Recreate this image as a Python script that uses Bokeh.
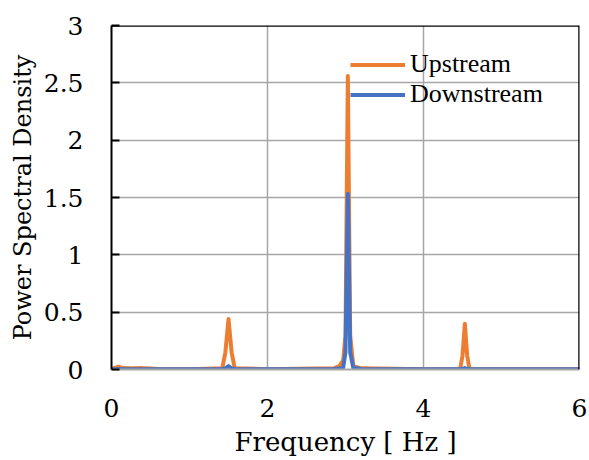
from bokeh.plotting import figure
from bokeh.models import (ColumnDataSource, Legend, LegendItem, Span,
                          FixedTicker, Range1d)
from bokeh.embed import file_html
from bokeh.resources import INLINE

# ---- data ----
freq = [0.0, 0.05, 0.09, 0.14, 0.25, 0.4, 0.5, 0.6, 1.0, 1.42, 1.46, 1.5, 1.54, 1.58,
        2.0, 2.85, 2.92, 2.97, 3.0, 3.03, 3.06, 3.1, 3.2, 4.0, 4.47, 4.5, 4.53, 4.56,
        4.59, 5.0, 6.0]
upstream = [0.005, 0.015, 0.025, 0.012, 0.01, 0.012, 0.008, 0.004, 0.003, 0.01, 0.15,
            0.44, 0.15, 0.01, 0.003, 0.01, 0.03, 0.08, 0.3, 2.56, 0.3, 0.03, 0.01,
            0.003, 0.005, 0.12, 0.40, 0.12, 0.005, 0.003, 0.003]
downstream = [0.002, 0.003, 0.004, 0.003, 0.002, 0.002, 0.002, 0.002, 0.002, 0.004,
              0.01, 0.03, 0.01, 0.004, 0.002, 0.004, 0.008, 0.015, 0.15, 1.53, 0.15,
              0.015, 0.005, 0.002, 0.002, 0.006, 0.012, 0.006, 0.002, 0.002, 0.002]
series_names = ["Upstream", "Downstream"]
x_ticks = [0, 2, 4, 6]
y_ticks = [0, 0.5, 1, 1.5, 2, 2.5, 3]
x_title = "Frequency [ Hz ]"
y_title = "Power Spectral Density"

FONT = "'Liberation Serif', 'Times New Roman', serif"
AXFONT = "DejaVu Serif"
ORANGE = "#ED7D31"
BLUE = "#4472C4"
GRID = "#a6a6a6"

src = ColumnDataSource(dict(f=freq, up=upstream, down=downstream))

p = figure(width=589, height=460, output_backend="svg", toolbar_location=None,
           x_range=Range1d(0, 6), y_range=Range1d(0, 3),
           min_border_left=111, min_border_right=10, min_border_top=25,
           min_border_bottom=91)
p.outline_line_color = None

r_up = p.line("f", "up", source=src, line_color=ORANGE, line_width=4, line_join="round")
r_down = p.line("f", "down", source=src, line_color=BLUE, line_width=4, line_join="round")

xa = p.xaxis[0]
ya = p.yaxis[0]
xa.ticker = FixedTicker(ticks=x_ticks)
ya.ticker = FixedTicker(ticks=y_ticks)
xa.axis_label = x_title
ya.axis_label = y_title
for ax in (xa, ya):
    ax.major_label_text_font = AXFONT
    ax.major_label_text_font_size = "25px"
    ax.major_label_text_color = "black"
    ax.axis_label_text_font = AXFONT
    ax.axis_label_text_font_style = "normal"
    ax.axis_label_text_color = "black"
    ax.minor_tick_line_color = None
xa.axis_label_text_font_size = "26px"
ya.axis_label_text_font_size = "24px"

xa.axis_line_color = GRID
xa.axis_line_width = 2
xa.major_tick_line_color = None
xa.major_label_standoff = 23
xa.axis_label_standoff = 7

ya.axis_line_color = "black"
ya.axis_line_width = 2
ya.major_tick_line_color = "black"
ya.major_tick_line_width = 2
ya.major_tick_in = 8
ya.major_tick_out = 0
ya.major_label_standoff = 28
ya.axis_label_standoff = 4

# grid
p.xgrid.grid_line_color = GRID
p.xgrid.grid_line_width = 1.5
p.ygrid.grid_line_color = GRID
p.ygrid.grid_line_width = 1.5

# top and right frame borders
p.add_layout(Span(location=3, dimension="width", line_color="black", line_width=2.5))
p.add_layout(Span(location=6, dimension="height", line_color="black", line_width=2.5))

legend = Legend(items=[LegendItem(label=series_names[0], renderers=[r_up]),
                       LegendItem(label=series_names[1], renderers=[r_down])],
                location=(239, 260), orientation="vertical",
                label_text_font=FONT, label_text_font_size="26px",
                label_text_color="black", glyph_width=55, glyph_height=29,
                label_height=29, label_standoff=5, spacing=0, padding=0, margin=0,
                border_line_alpha=0, background_fill_alpha=0)
p.add_layout(legend)

open("out.html", "w").write(file_html(p, INLINE))
